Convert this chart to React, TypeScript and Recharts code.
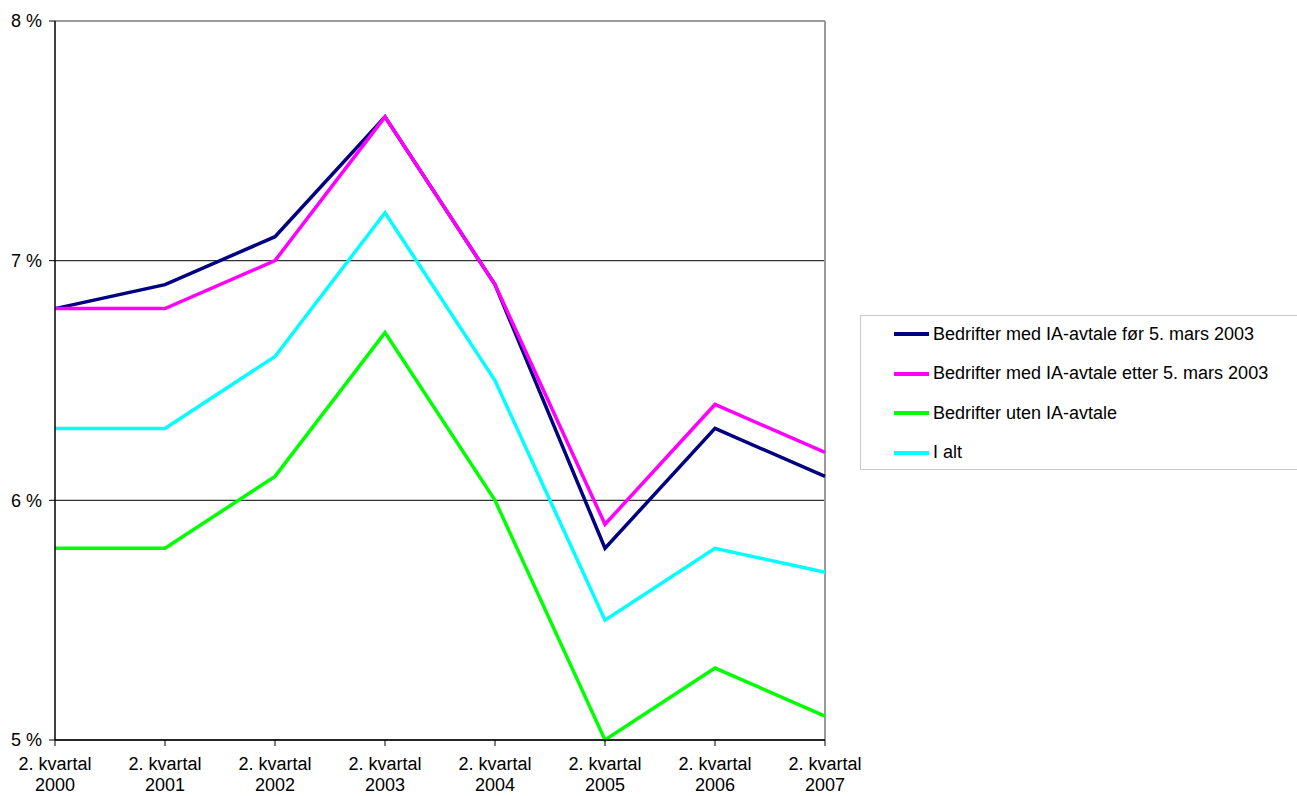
import {
  LineChart,
  Line,
  XAxis,
  YAxis,
  CartesianGrid,
  ReferenceLine,
  Legend,
} from 'recharts'

const quarters = ['2000', '2001', '2002', '2003', '2004', '2005', '2006', '2007']

const forMars2003 = [6.8, 6.9, 7.1, 7.6, 6.9, 5.8, 6.3, 6.1]
const etterMars2003 = [6.8, 6.8, 7.0, 7.6, 6.9, 5.9, 6.4, 6.2]
const utenIA = [5.8, 5.8, 6.1, 6.7, 6.0, 5.0, 5.3, 5.1]
const iAlt = [6.3, 6.3, 6.6, 7.2, 6.5, 5.5, 5.8, 5.7]

const yTicks = [5, 6, 7, 8]

const series = [
  { key: 'for', name: 'Bedrifter med IA-avtale før 5. mars 2003', color: '#000080', values: forMars2003 },
  { key: 'etter', name: 'Bedrifter med IA-avtale etter 5. mars 2003', color: '#ff00ff', values: etterMars2003 },
  { key: 'uten', name: 'Bedrifter uten IA-avtale', color: '#00ff00', values: utenIA },
  { key: 'alt', name: 'I alt', color: '#00ffff', values: iAlt },
]

const data = quarters.map((year, i) => {
  const row: Record<string, string | number> = { year }
  series.forEach((s) => {
    row[s.key] = s.values[i]
  })
  return row
})

const FONT = '"Liberation Sans", Arial, sans-serif'

// two-line category label: "2. kvartal" over the year
const QuarterTick = ({ x, y, payload }: any) => (
  <text x={x} y={y} textAnchor="middle" fontFamily={FONT} fontSize={18} fill="#000">
    <tspan x={x} dy={22}>2. kvartal</tspan>
    <tspan x={x} dy={21}>{payload.value}</tspan>
  </text>
)

const LegendBox = () => (
  <div
    style={{
      position: 'absolute',
      left: 860,
      top: 315,
      width: 460,
      height: 155,
      border: '1px solid #c8c8c8',
      boxSizing: 'border-box',
      fontFamily: FONT,
      fontSize: 18,
      color: '#000',
    }}
  >
    {series.map((s, i) => (
      <div
        key={s.key}
        style={{
          position: 'absolute',
          left: 33,
          top: 18 + i * 39.5 - 11,
          height: 22,
          display: 'flex',
          alignItems: 'center',
          whiteSpace: 'nowrap',
        }}
      >
        <span style={{ display: 'inline-block', width: 35, height: 4, background: s.color, marginRight: 4 }} />
        {s.name}
      </div>
    ))}
  </div>
)

export default function App() {
  return (
    <div style={{ position: 'absolute', left: 0, top: 0, width: 1297, height: 796, background: '#fff' }}>
      <LineChart
        width={1297}
        height={796}
        data={data}
        margin={{ top: 21, right: 472, left: 0, bottom: 0 }}
      >
        <CartesianGrid vertical={false} stroke="#333" strokeWidth={1.2} />
        <XAxis
          dataKey="year"
          height={56}
          interval={0}
          tickSize={6}
          stroke="#000"
          tickLine={{ stroke: '#000' }}
          axisLine={{ stroke: '#000', strokeWidth: 1.5 }}
          tick={<QuarterTick />}
        />
        <YAxis
          width={55}
          domain={[5, 8]}
          ticks={yTicks}
          tickSize={6}
          tickMargin={7}
          tickFormatter={(v: number) => `${v} %`}
          axisLine={{ stroke: '#000', strokeWidth: 1.5 }}
          tickLine={{ stroke: '#000' }}
          tick={{ fill: '#000', fontSize: 18, fontFamily: FONT }}
        />
        <ReferenceLine y={8} stroke="#9a9a9a" strokeWidth={2} />
        <ReferenceLine x="2007" stroke="#9a9a9a" strokeWidth={2} />
        {series.map((s) => (
          <Line
            key={s.key}
            dataKey={s.key}
            name={s.name}
            type="linear"
            stroke={s.color}
            strokeWidth={3.5}
            dot={false}
            activeDot={false}
            isAnimationActive={false}
          />
        ))}
        <Legend content={() => null} />
      </LineChart>
      <LegendBox />
    </div>
  )
}
